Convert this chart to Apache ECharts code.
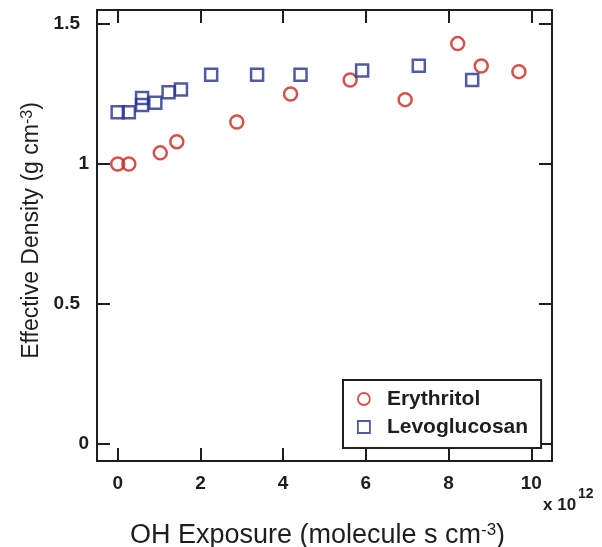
<!DOCTYPE html>
<html>
<head>
<meta charset="utf-8">
<script src="https://cdn.jsdelivr.net/npm/echarts@6/dist/echarts.min.js"></script>
<style>
  html, body { margin: 0; padding: 0; background: #fff; }
  #main { width: 602px; height: 547px; }
</style>
</head>
<body>
<div id="main"></div>
<script>
// Erythritol (red circles)
var eryX = [0, 0.27, 1.03, 1.43, 2.88, 4.18, 5.62, 6.95, 8.22, 8.79, 9.70];
var eryY = [1.00, 1.00, 1.04, 1.08, 1.15, 1.25, 1.30, 1.23, 1.43, 1.35, 1.33];
// Levoglucosan (blue squares)
var levX = [0, 0.27, 0.59, 0.59, 0.91, 1.23, 1.53, 2.26, 3.37, 4.42, 5.91, 7.28, 8.57];
var levY = [1.185, 1.185, 1.236, 1.211, 1.219, 1.256, 1.266, 1.319, 1.319, 1.319, 1.334, 1.351, 1.30];

var seriesNames = ['Erythritol', 'Levoglucosan'];

function pairs(xs, ys) {
  var out = [];
  for (var i = 0; i < xs.length; i++) {
    out.push([xs[i], ys[i]]);
  }
  return out;
}

var font = 'Liberation Sans, Arial, sans-serif';
var ink = '#1e1e1e';
var red = '#c8281f';
var blue = '#25318f';

var axisLine = { show: true, onZero: false, lineStyle: { color: ink, width: 2 } };
var axisTick = { show: true, inside: true, length: 13, lineStyle: { color: ink, width: 2 } };

var chart = echarts.init(document.getElementById('main'));

var option = {
  backgroundColor: '#fff',
  animation: false,
  grid: { left: 97, right: 50, top: 10, bottom: 86, containLabel: false, outerBoundsMode: 'none' },
  legend: {
    orient: 'vertical',
    left: 343,
    top: 380,
    padding: [8, 13, 10, 14],
    itemWidth: 12,
    itemHeight: 12,
    itemGap: 6,
    borderColor: ink,
    borderWidth: 2,
    backgroundColor: '#fff',
    data: [
      { name: seriesNames[0], icon: 'circle', itemStyle: { borderWidth: 1.8 } },
      { name: seriesNames[1], icon: 'rect', itemStyle: { borderWidth: 1.8 } }
    ],
    textStyle: {
      fontFamily: font, fontSize: 21, fontWeight: 'bold', color: ink,
      lineHeight: 22, padding: [0, 0, 0, 12]
    }
  },
  xAxis: [
    {
      type: 'value',
      position: 'bottom',
      min: -0.5,
      max: 10.5,
      splitNumber: 5,
      axisLine: axisLine,
      axisTick: axisTick,
      splitLine: { show: false },
      axisLabel: {
        margin: 13, showMinLabel: false, showMaxLabel: false,
        fontFamily: font, fontSize: 19, fontWeight: 'bold', color: ink
      },
      name: 'OH Exposure (molecule s cm{sup|-3})',
      nameLocation: 'middle',
      nameGap: 61,
      nameTextStyle: {
        fontFamily: font, fontSize: 27, color: ink, padding: [0, 14, 0, 0],
        rich: { sup: { fontFamily: font, fontSize: 17, color: ink, verticalAlign: 'top', lineHeight: 10 } }
      }
    },
    {
      type: 'value',
      position: 'top',
      min: -0.5,
      max: 10.5,
      splitNumber: 5,
      axisLine: axisLine,
      axisTick: axisTick,
      axisLabel: { show: false },
      splitLine: { show: false }
    }
  ],
  yAxis: [
    {
      type: 'value',
      position: 'left',
      min: -0.06,
      max: 1.55,
      splitNumber: 3,
      axisLine: axisLine,
      axisTick: axisTick,
      splitLine: { show: false },
      axisLabel: {
        margin: 8, showMinLabel: false, showMaxLabel: false,
        fontFamily: font, fontSize: 19, fontWeight: 'bold', color: ink,
        formatter: function (v) {
          return v % 1 === 0 ? String(v) : '{d|' + v + '}';
        },
        rich: { d: { fontFamily: font, fontSize: 19, fontWeight: 'bold', color: ink, padding: [0, 9, 0, 0] } }
      },
      name: 'Effective Density (g cm{sup|-3})',
      nameLocation: 'middle',
      nameGap: 49,
      nameTextStyle: {
        fontFamily: font, fontSize: 23, color: ink, padding: [0, 0, 0, 10],
        rich: { sup: { fontFamily: font, fontSize: 16, color: ink, verticalAlign: 'top', lineHeight: 9 } }
      }
    },
    {
      type: 'value',
      position: 'right',
      min: -0.06,
      max: 1.55,
      splitNumber: 3,
      axisLine: axisLine,
      axisTick: axisTick,
      axisLabel: { show: false },
      splitLine: { show: false }
    }
  ],
  graphic: [
    {
      type: 'text',
      left: 543,
      top: 497,
      style: { text: 'x 10', font: 'bold 17px ' + font, fill: ink }
    },
    {
      type: 'text',
      left: 578,
      top: 487,
      style: { text: '12', font: 'bold 14px ' + font, fill: ink }
    }
  ],
  series: [
    {
      name: seriesNames[0],
      type: 'scatter',
      symbol: 'circle',
      symbolSize: 13,
      itemStyle: { color: 'rgba(0,0,0,0)', borderColor: red, borderWidth: 2.5 },
      data: pairs(eryX, eryY)
    },
    {
      name: seriesNames[1],
      type: 'scatter',
      symbol: 'rect',
      symbolSize: 12,
      itemStyle: { color: 'rgba(0,0,0,0)', borderColor: blue, borderWidth: 2.5 },
      data: pairs(levX, levY)
    }
  ]
};

chart.setOption(option);
</script>
</body>
</html>
